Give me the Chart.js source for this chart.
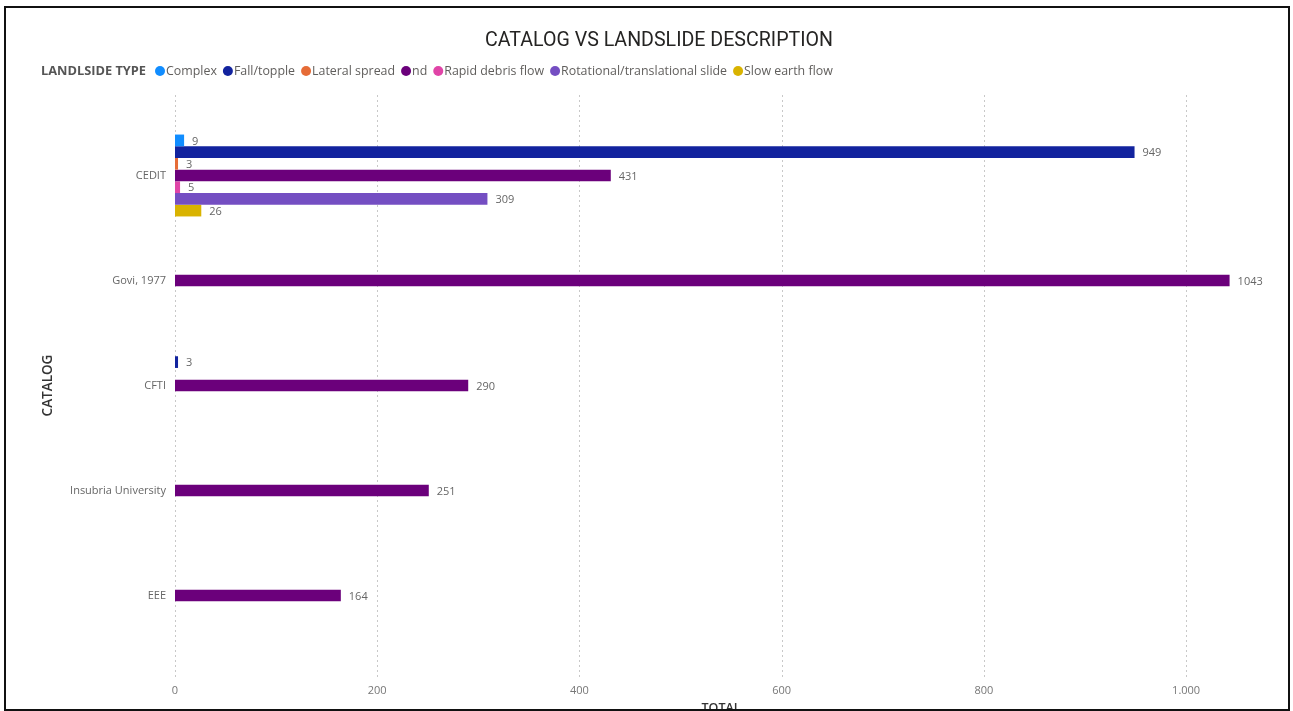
<!DOCTYPE html>
<html>
<head>
<meta charset="utf-8">
<script src="https://cdn.jsdelivr.net/npm/chart.js@4.4.1/dist/chart.umd.min.js"></script>
<style>
  html, body { margin: 0; padding: 0; background: #fff; overflow: hidden; width: 1293px; height: 711px; }
  #wrap { position: absolute; left: 0; top: 0; width: 1293px; height: 730px; }
  #frame { position: absolute; left: 4px; top: 6px; width: 1286px; height: 705px; box-sizing: border-box;
           border: 2px solid #111; pointer-events: none; }
</style>
</head>
<body>
<div id="wrap"><canvas id="chart" width="1293" height="730"></canvas></div>
<div id="frame"></div>
<script>
// Catalogs on the vertical axis
const catalogs = ['CEDIT', 'Govi, 1977', 'CFTI', 'Insubria University', 'EEE'];

// Landslide types (legend order) and their colours
const landslideTypes = ['Complex', 'Fall/topple', 'Lateral spread', 'nd', 'Rapid debris flow',
                        'Rotational/translational slide', 'Slow earth flow'];
const typeColors = ['#118DFF', '#12239E', '#E66C37', '#6B007B', '#E044A7', '#744EC2', '#D9B300'];

// Totals per catalog for each landslide type (null = no records)
const complexTotals      = [9,    null, null, null, null];
const fallToppleTotals   = [949,  null, 3,    null, null];
const lateralSpreadTotals= [3,    null, null, null, null];
const ndTotals           = [431,  1043, 290,  251,  164];
const rapidDebrisTotals  = [5,    null, null, null, null];
const rotationalTotals   = [309,  null, null, null, null];
const slowEarthTotals    = [26,   null, null, null, null];

// Horizontal axis ticks
const totalTicks = [0, 200, 400, 600, 800, 1000];

const seriesValues = [complexTotals, fallToppleTotals, lateralSpreadTotals, ndTotals,
                      rapidDebrisTotals, rotationalTotals, slowEarthTotals];

const UI_FONT = '"Open Sans", "Noto Sans", sans-serif';

// Dotted vertical gridlines, running slightly past the plot area like the report visual
const gridPlugin = {
  id: 'dottedGrid',
  beforeDatasetsDraw(chart) {
    const { ctx, chartArea, scales } = chart;
    const x = scales.x;
    ctx.save();
    ctx.strokeStyle = '#c8c8c8';
    ctx.lineWidth = 1;
    ctx.setLineDash([2, 3]);
    x.ticks.forEach(t => {
      const px = Math.round(x.getPixelForValue(t.value)) + 0.5;
      ctx.beginPath();
      ctx.moveTo(px, chartArea.top - 28);
      ctx.lineTo(px, chartArea.bottom + 30);
      ctx.stroke();
    });
    ctx.restore();
  }
};

// Value labels at the end of each bar
const valueLabelPlugin = {
  id: 'valueLabels',
  afterDatasetsDraw(chart) {
    const { ctx } = chart;
    ctx.save();
    ctx.font = '11px ' + UI_FONT;
    ctx.fillStyle = '#666666';
    ctx.textAlign = 'left';
    ctx.textBaseline = 'middle';
    chart.data.datasets.forEach((ds, i) => {
      const meta = chart.getDatasetMeta(i);
      meta.data.forEach((el, j) => {
        const v = ds.data[j];
        if (v === null || v === undefined) return;
        ctx.fillText(String(v), el.x + 8, el.y + 1);
      });
    });
    ctx.restore();
  }
};

// Title and inline legend header
const headerPlugin = {
  id: 'header',
  afterDraw(chart) {
    const { ctx } = chart;
    ctx.save();
    ctx.textBaseline = 'middle';
    ctx.textAlign = 'center';
    ctx.fillStyle = '#252423';
    ctx.font = '19.6px Roboto, "DejaVu Sans", sans-serif';
    ctx.fillText('CATALOG VS LANDSLIDE DESCRIPTION', 659, 41);

    ctx.textAlign = 'left';
    ctx.font = 'bold 12.8px ' + UI_FONT;
    ctx.fillStyle = '#555555';
    ctx.fillText('LANDLSIDE TYPE', 41, 71);

    ctx.font = '12.4px ' + UI_FONT;
    let x = 155;
    chart.data.datasets.forEach(ds => {
      ctx.fillStyle = ds.backgroundColor;
      ctx.beginPath();
      ctx.arc(x + 5, 71, 5, 0, Math.PI * 2);
      ctx.fill();
      ctx.fillStyle = '#605E5C';
      ctx.fillText(ds.label, x + 11, 71);
      x += 11 + ctx.measureText(ds.label).width + 6;
    });
    ctx.restore();
  }
};

const CANVAS_H = 730;

new Chart(document.getElementById('chart'), {
  type: 'bar',
  data: {
    labels: catalogs,
    datasets: landslideTypes.map((name, i) => ({
      label: name,
      data: seriesValues[i],
      backgroundColor: typeColors[i],
      borderWidth: 0,
      barPercentage: 1.0,
      categoryPercentage: 0.78
    }))
  },
  options: {
    indexAxis: 'y',
    responsive: false,
    animation: false,
    locale: 'de-DE',
    layout: { padding: { top: 123, right: 26, left: 0, bottom: 0 } },
    plugins: {
      legend: { display: false },
      title: { display: false },
      tooltip: { enabled: false }
    },
    scales: {
      x: {
        type: 'linear',
        min: 0,
        max: 1080,
        grid: { display: false, drawTicks: false },
        border: { display: false },
        afterBuildTicks: s => { s.ticks = totalTicks.map(v => ({ value: v })); },
        afterFit: s => { s.height = CANVAS_H - 648; },
        ticks: {
          padding: 36,
          color: '#777777',
          font: { family: UI_FONT, size: 11 },
          callback: v => Number(v).toLocaleString('de-DE')
        },
        title: {
          display: true,
          text: 'TOTAL',
          color: '#333333',
          font: { family: UI_FONT, size: 12.5, weight: '600' },
          padding: { top: 0, bottom: 14 }
        }
      },
      y: {
        grid: { display: false, drawTicks: false },
        border: { display: false },
        afterFit: s => { s.width = 175; },
        ticks: {
          padding: 9,
          color: '#666666',
          font: { family: UI_FONT, size: 11 }
        },
        title: {
          display: true,
          text: 'CATALOG',
          color: '#333333',
          font: { family: UI_FONT, size: 13.5, weight: '600' },
          padding: { top: 40, bottom: 0 }
        }
      }
    }
  },
  plugins: [gridPlugin, valueLabelPlugin, headerPlugin]
});
</script>
</body>
</html>
